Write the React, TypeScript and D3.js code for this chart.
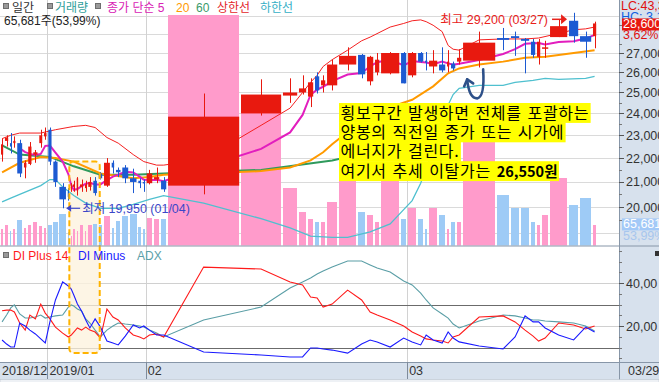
import React, { useEffect, useLayoutEffect, useRef, useState } from "react";
import * as d3 from "d3";

// ---------- data ----------
const opens = [22150,22750,22650,22650,22650,21600,21750,22150,22650,22950,
  23250,21850,20800,20600,20750,20800,20650,20800,20750,20800,21050,21350,20850,21800,21500,21600,21150,21050,21000,
  20950,21100,21050,20850,24000,24850,25000,24800,25800,25350,25350,26400,26900,25550,26000,25950,27000,
  25850,27000,26600,26300,26400,26300,26450,26550,26600,27800,27900,27750,27600,26800,27250,27850,28750,27900,27900];
const highs = [22850,23000,23100,22950,22800,21900,22700,22350,23250,23350,
  23350,21900,20950,20750,20950,21050,21200,21100,21050,21200,21200,21400,22000,21900,21600,21700,21550,21150,21100,
  21500,21600,21200,24950,25650,25700,25850,25700,26000,25850,26650,27300,26950,26850,27000,27050,27050,
  27050,27050,27050,27150,27300,27150,26550,27200,28150,28350,28150,27800,27750,27750,27650,28800,29200,28150,28700];
const lows = [21850,22500,22200,22450,21200,21150,21700,21800,22450,22800,
  21700,20800,19950,20250,20600,20600,20450,20600,20600,20650,20450,21100,20800,21350,21200,20950,20550,20750,20600,
  20900,20950,20600,20500,23900,24500,24900,24300,24950,25000,25100,26100,25700,25350,25850,25900,25450,
  25750,26500,26100,25950,26000,26000,26100,26400,26250,27150,26850,25950,26750,26400,26750,27850,27550,26750,27250];
const closes = [22600,22900,22500,22750,21350,21800,22500,22250,23000,23100,
  21850,21000,20300,20400,20800,20900,21150,20900,20900,21000,20550,21150,21800,21600,21400,21150,21000,20950,20950,
  21350,21200,20700,23850,24900,25000,25200,25500,25100,25600,26400,26850,25900,26800,26650,27000,25450,
  27000,26550,26500,26600,26100,26550,26200,26750,27550,27700,27800,27650,26900,27600,27300,28450,27900,27600,28600];
// thousand shares
const volumes = [52,66,43,52,88,56,66,79,62,56,
  66,79,110,39,26,52,43,66,43,66,71,69,101,56,83,101,109,58,52,
  96,92,92,956,550,210,118,92,79,79,157,249,118,105,79,262,92,
  131,92,52,131,105,52,79,79,445,183,131,131,79,66,105,249,144,170,65.681];

const monthStartIdx = [0, 10, 29, 46];
const monthLabels = ["2018/12", "2019/01", "02", "03"];

const ma20Pts = [[0,21400],[4,21800],[8,22050],[11,22000],[15,21850],[21,21350],[26,21150],[29,21200],[31,21300],[32,21350],[33,21450],[34,21600],[36,21900],[38,22250],[39,22600],[40,23150],[42,23900],[44,24300],[46,24650],[49,25300],[51,25950],[53,26200],[54,26400],[55,26550],[57,26750],[60,26800],[61,26900],[62,27000],[64,27150]];
const ma60Pts = [[0,22550],[4,22150],[10,22050],[15,21650],[21,21300],[26,21300],[31,21350],[33,21500],[39,21900],[40,22050],[44,22400],[49,22900],[54,23300],[59,23700],[62,23950]];
const bbUpperPts = [[0,22850],[2,23000],[4,23100],[8,23100],[11,23250],[15,23400],[18,23450],[20,23350],[22,22900],[24,22650],[26,22150],[28,21850],[30,21700],[31,21700],[32,21950],[33,23450],[34,24250],[35,25000],[36,25500],[37,25850],[38,26300],[39,26650],[40,27150],[41,27650],[42,27850],[44,28400],[45,28600],[46,28750],[47,28800],[48,28700],[49,28500],[50,28150],[51,27400],[52,27200],[53,27150],[54,27700],[55,27750],[57,27750],[59,27800],[61,28050],[62,28250],[63,28300],[64,28400]];
const bbLowerPts = [[0,20200],[2,20350],[4,20500],[8,20850],[10,21100],[11,21100],[12,20800],[15,20450],[18,20150],[21,19950],[24,19950],[26,20100],[29,20300],[31,20450],[32,20150],[33,19550],[34,19200],[36,18900],[39,18850],[40,18850],[42,19050],[44,19350],[45,19900],[46,20250],[47,20950],[49,22350],[50,23750],[51,24400],[52,24900],[53,25200],[54,25350],[55,25350],[56,25500],[58,25600],[60,25700],[61,25650],[63,25700],[64,25800]];

const diPlus = [27.1,27.4,27.4,26.5,21.4,18.1,25.1,23.3,30.2,26.0,23.3,19.5,16.7,14.9,15.8,17.2,19.1,18.1,19.5,18.1,
  17.2,14.4,27.9,24.2,22.8,19.1,15.8,14.9,14.0,15.8,16.3,14.9,47.4,46.5,40.5,39.1,33.5,33.0,28.8,30.2,
  36.7,32.1,26.5,25.1,22.8,20.0,17.2,15.3,14.0,13.5,13.0,12.1,14.9,15.8,24.2,24.7,21.9,18.1,15.3,13.0,14.4,21.4,20.5,18.6,20.0];
const diMinus = [13.5,11.6,10.2,10.2,21.4,20.0,18.1,16.3,14.0,12.1,21.9,32.1,40.5,38.6,37.2,34.4,30.2,27.0,22.8,19.1,
  23.3,19.5,13.0,12.1,11.2,15.3,20.5,19.1,20.0,18.1,15.8,15.8,7.9,6.5,5.6,5.6,9.8,9.8,9.3,8.8,
  7.4,11.6,13.5,12.6,10.2,14.4,12.6,11.2,15.8,13.5,12.1,17.2,14.4,12.6,10.7,9.3,14.9,24.7,21.9,21.9,19.1,15.8,13.5,19.5,17.2];
const adx = [21.9,25.1,28.4,29.8,25.6,23.7,23.7,24.2,25.1,23.7,24.2,24.7,25.1,28.8,29.8,29.3,27.9,27.0,23.3,21.4,
  18.1,14.9,18.1,20.0,21.4,20.9,20.5,20.0,19.5,18.1,16.7,14.9,22.8,28.8,37.7,40.5,42.3,44.2,45.6,47.4,
  50.2,50.2,48.4,47.0,45.1,40.9,39.1,35.3,32.1,28.4,25.6,23.7,20.9,19.1,22.3,25.1,24.7,23.7,22.8,22.8,22.3,21.9,21.4,20.0,17.7];

const priceTicks = [20000,21000,22000,23000,24000,25000,26000,27000];
const priceGrid = [19000,20000,21000,22000,23000,24000,25000,26000,27000,28000,29000];
const diTicks = [20, 40];
const diRefLines = [10, 30];

const boxLines = ["횡보구간 발생하면 전체를 포괄하는", "양봉의 직전일 종가 또는 시가에", "에너지가 걸린다.", "여기서 추세 이탈가는 "];
const boxBold = "26,550원";

// ---------- styling ----------
const W = 659, H = 382;
const PLOT_R = 619;
const TOP_B = 245.5;
const DI_T = 247, DI_B = 362;
const RED = "#e8190f", BLUE = "#1c5ad2", PINK = "#ff9bcb", SKY = "#9ecbf6";
const AXBG = "#d7e1ed";
const FONT = "'Liberation Sans', Arial, 'Noto Sans CJK KR', sans-serif";
const KFONT = "'Noto Sans CJK KR', 'Noto Sans', sans-serif";

export default function App() {
  useEffect(() => { document.body.style.margin = "0"; }, []);
  const textRefs = useRef<(SVGTextElement | null)[]>([]);
  const [tw, setTw] = useState<number[]>([252, 226, 122, 215]);
  useLayoutEffect(() => {
    const w = textRefs.current.map((el) => (el ? el.getComputedTextLength() : 0));
    setTw(w);
  }, []);

  const startCum = volumes.map((_, i) => d3.sum(volumes.slice(0, i)));
  const total = d3.sum(volumes);
  const x = d3.scaleLinear().domain([0, total]).range([1, 598]);
  const GAP = 1.8;
  const xs = startCum.map((c) => x(c));
  const ws = volumes.map((v, i) => Math.max(1, x(startCum[i] + v) - xs[i] - GAP));
  const cx = xs.map((s, i) => s + ws[i] / 2);

  const yP = d3.scaleLog().domain([20000, 27000]).range([207, 53]);
  const hV = d3.scaleLinear().domain([0, 1000]).range([3, 263]);
  const yD = d3.scaleLinear().domain([20, 40]).range([326, 283]);

  const ptLine = d3.line<number[]>().x((d) => cx[d[0]]).y((d) => yP(d[1]));
  const ma5 = closes.map((c, i) => (i < 4 ? null : (d3.mean(closes.slice(i - 4, i + 1)) as number)));
  const ma5Line = d3.line<number | null>().defined((d) => d != null).x((d, i) => cx[i]).y((d) => yP(d as number));
  const diLine = d3.line<number>().x((d, i) => cx[i]).y((d) => yD(d));

  const monthX = monthStartIdx.map((idx) => (idx === 0 ? 0 : xs[idx] - GAP / 2));
  const fmt = d3.format(",");
  const last = volumes.length - 1;

  const minorPrice = d3.range(19500, 29001, 500).filter((v) => v % 1000 !== 0);
  const minorDi = d3.range(5, 56, 5).filter((v) => v % 20 !== 0);

  // annotation anchors derived from the scales
  const hiIdx = closes.length - 3; // 03/27
  const loIdx = 12; // 01/04
  const hiTip = xs[hiIdx] - 2, hiY = yP(29200) + 6.5;
  const loTip = cx[loIdx] + 3.5, loY = yP(19950);
  const ax = cx[54], by = yP(26150);
  const boxL = cx[13] + 1, boxR = xs[21] + 1, boxT = yP(21850), boxB = yD(7.5);
  const bx = 339, bTop = 103, lh = 19.4;
  const volTopLast = TOP_B - hV(volumes[last]);

  return (
    <svg width={W} height={H} style={{ position: "absolute", left: 0, top: 0, display: "block", background: "#fff" }} fontFamily={FONT}>
      <defs>
        <clipPath id="cTop"><rect x={0} y={0} width={PLOT_R} height={TOP_B} /></clipPath>
        <clipPath id="cVol"><rect x={0} y={15} width={PLOT_R} height={TOP_B - 15} /></clipPath>
        <clipPath id="cDi"><rect x={0} y={DI_T} width={PLOT_R} height={DI_B - DI_T} /></clipPath>
        <clipPath id="cAll"><rect x={0} y={0} width={W} height={H} /></clipPath>
      </defs>

      {/* grid */}
      {priceGrid.map((p) => (
        <line key={p} x1={0} x2={PLOT_R} y1={Math.round(yP(p)) + 0.5} y2={Math.round(yP(p)) + 0.5} stroke="#dadada" />
      ))}
      {monthX.slice(1).map((mx, i) => (
        <line key={i} x1={Math.round(mx) + 0.5} x2={Math.round(mx) + 0.5} y1={0} y2={DI_B} stroke="#d2d2d2" />
      ))}
      {diTicks.map((t) => (
        <line key={t} x1={0} x2={PLOT_R} y1={Math.round(yD(t)) + 0.5} y2={Math.round(yD(t)) + 0.5} stroke="#d0d0d0" />
      ))}
      {diRefLines.map((t) => (
        <line key={t} x1={0} x2={PLOT_R} y1={Math.round(yD(t)) + 0.5} y2={Math.round(yD(t)) + 0.5} stroke="#6b6b6b" />
      ))}

      {/* highlighted range fill */}
      <rect x={boxL} y={boxT} width={boxR - boxL} height={boxB - boxT} rx={4} fill="#fdf3df" opacity={0.8} />

      {/* volume */}
      <g clipPath="url(#cVol)" shapeRendering="crispEdges">
        {volumes.map((v, i) => (
          <rect key={i} x={xs[i]} width={ws[i]} y={TOP_B - hV(v)} height={hV(v)} fill={closes[i] >= opens[i] ? PINK : SKY} />
        ))}
      </g>

      {/* indicator lines */}
      <g clipPath="url(#cTop)" fill="none">
        <path d={ptLine(bbLowerPts) || ""} stroke="#4fc0cf" strokeWidth={1.3} />
        <path d={ptLine(bbUpperPts) || ""} stroke="#f42020" strokeWidth={1} />
        <path d={ptLine(ma60Pts) || ""} stroke="#2f9a5c" strokeWidth={2} />
        <path d={ptLine(ma20Pts) || ""} stroke="#ff9a00" strokeWidth={2} />
        <path d={ma5Line(ma5) || ""} stroke="#e21ebe" strokeWidth={2} />
      </g>

      {/* candles */}
      <g clipPath="url(#cTop)">
        {opens.map((o, i) => {
          const up = closes[i] >= o;
          const col = up ? RED : BLUE;
          const yT = yP(Math.max(o, closes[i]));
          const yB = yP(Math.min(o, closes[i]));
          const wx = Math.round(cx[i]) + 0.5;
          return (
            <g key={i}>
              <line x1={wx} x2={wx} y1={yP(highs[i])} y2={yP(lows[i])} stroke={col} strokeWidth={1} />
              <rect x={xs[i]} width={ws[i]} y={yT} height={Math.max(1.5, yB - yT)} fill={col} />
            </g>
          );
        })}
      </g>

      {/* DI panel */}
      <g clipPath="url(#cDi)" fill="none" strokeWidth={1.1}>
        <path d={diLine(adx) || ""} stroke="#5a9ea6" />
        <path d={diLine(diPlus) || ""} stroke="#ff1a1a" />
        <path d={diLine(diMinus) || ""} stroke="#1a1aff" />
      </g>

      {/* dashed highlight outline */}
      <rect x={boxL} y={boxT} width={boxR - boxL} height={boxB - boxT} rx={4} fill="none" stroke="#ffb300" strokeWidth={2} strokeDasharray="6 3" />

      {/* text box */}
      {boxLines.map((ln, i) => (
        <rect key={"r" + i} x={bx} y={bTop + i * lh} width={tw[i] + 3} height={lh + 0.5} fill="#ffff00" />
      ))}
      {boxLines.map((ln, i) => (
        <text key={"t" + i} ref={(el) => { textRefs.current[i] = el; }} x={bx + 1.5} y={bTop + i * lh + 15.5} fontFamily={KFONT} fontSize={16} letterSpacing={0.7} wordSpacing={1.5} fill="#000">
          {ln}
          {i === 3 ? <tspan fontWeight={700} fontSize={14.5} letterSpacing={0}>{boxBold}</tspan> : null}
        </text>
      ))}

      {/* high / low annotations */}
      <text x={hiTip - 19} y={hiY + 4.5} textAnchor="end" fontSize={12.5} fill="#e8211a">최고 29,200 (03/27)</text>
      <line x1={hiTip - 15} x2={hiTip - 4} y1={hiY} y2={hiY} stroke="#e8211a" strokeWidth={1.5} />
      <path d={`M${hiTip},${hiY} L${hiTip - 6},${hiY - 5} L${hiTip - 6},${hiY + 5} Z`} fill="#e8211a" />

      <path d={`M${loTip},${loY} L${loTip + 5},${loY - 3.5} L${loTip + 5},${loY + 3.5} Z`} fill="#3b46c8" />
      <line x1={loTip + 4} x2={loTip + 14} y1={loY} y2={loY} stroke="#3b46c8" strokeWidth={1.2} />
      <text x={loTip + 16} y={loY + 4.5} fontSize={12.5} fill="#3b46c8">최저 19,950 (01/04)</text>

      {/* curved arrow */}
      <g fill="none" stroke="#2d5089" strokeWidth={2.6} strokeLinecap="round" strokeLinejoin="round">
        <path d={`M${ax + 4},${by} C${ax + 5},${by + 16} ${ax + 4},${by + 28} ${ax - 2},${by + 29} C${ax - 8},${by + 29} ${ax - 11},${by + 20} ${ax - 12},${by + 10}`} />
        <path d={`M${ax - 15},${by + 17} L${ax - 12},${by + 10} L${ax - 6},${by + 14}`} />
      </g>

      {/* legends */}
      {[3, 47, 95].map((sx) => (
        <rect key={sx} x={sx + 0.5} y={3.5} width={5} height={5} fill="#9a9a9a" stroke="#6e6e6e" />
      ))}
      <g fontSize={12}>
        <text x={12} y={11.5} fill="#333">일간</text>
        <text x={55} y={11.5} fill="#2e9e9a">거래량</text>
        <text x={107} y={11.5} fill="#d822b5">종가 단순 5</text>
        <text x={176} y={11.5} fill="#ff9a00">20</text>
        <text x={196} y={11.5} fill="#3a9a6a">60</text>
        <text x={217} y={11.5} fill="#e3262a">상한선</text>
        <text x={260} y={11.5} fill="#35afc6">하한선</text>
        <text x={4} y={25} fill="#222">65,681주(53,99%)</text>
      </g>
      <rect x={3.5} y={252.5} width={5} height={5} fill="#9a9a9a" stroke="#6e6e6e" />
      <g fontSize={12}>
        <text x={13} y={259.5} fill="#ff1a1a">DI Plus 14</text>
        <text x={78} y={259.5} fill="#2020ff">DI Minus</text>
        <text x={137} y={259.5} fill="#5aa0a8">ADX</text>
      </g>

      {/* right axis panel */}
      <g clipPath="url(#cAll)">
        <rect x={PLOT_R} y={0} width={W - PLOT_R} height={H} fill={AXBG} />
        <line x1={PLOT_R + 0.5} x2={PLOT_R + 0.5} y1={0} y2={H} stroke="#8796a8" />
        {priceTicks.map((p) => (
          <g key={p}>
            <line x1={PLOT_R} x2={PLOT_R + 5} y1={Math.round(yP(p)) + 0.5} y2={Math.round(yP(p)) + 0.5} stroke="#555" />
            <text x={PLOT_R + 7} y={yP(p) + 4.5} fontSize={12.5} fill="#333">{fmt(p)}</text>
          </g>
        ))}
        {minorPrice.map((p) => (
          <line key={p} x1={PLOT_R} x2={PLOT_R + 3} y1={Math.round(yP(p)) + 0.5} y2={Math.round(yP(p)) + 0.5} stroke="#777" />
        ))}
        <text x={PLOT_R + 2} y={10} fontSize={12.5} fill="#e01010">LC:43,350</text>
        <text x={PLOT_R + 2} y={21} fontSize={12.5} fill="#1060e0">HC: 3,150</text>
        <rect x={PLOT_R + 3} y={yP(28600) - 5} width={W - PLOT_R - 3} height={12} fill={RED} />
        <text x={PLOT_R + 4} y={yP(28600) + 5} fontSize={12.5} fill="#fff">28,600</text>
        <text x={PLOT_R + 4} y={yP(28600) + 16} fontSize={12.5} fill="#e01010">3,62%</text>
        <rect x={PLOT_R + 3} y={volTopLast - 7} width={W - PLOT_R - 3} height={12} fill="#a3c9f7" />
        <text x={PLOT_R + 4} y={volTopLast + 3} fontSize={12.5} fill="#fff">65,681</text>
        <text x={PLOT_R + 4} y={volTopLast + 15} fontSize={12.5} fill="#a7c6ee">53,99%</text>

        {diTicks.map((t) => (
          <g key={t}>
            <line x1={PLOT_R} x2={PLOT_R + 5} y1={Math.round(yD(t)) + 0.5} y2={Math.round(yD(t)) + 0.5} stroke="#555" />
            <text x={PLOT_R + 7} y={yD(t) + 4.5} fontSize={12.5} fill="#333">{t.toFixed(2).replace(".", ",")}</text>
          </g>
        ))}
        {minorDi.map((t) => (
          <line key={t} x1={PLOT_R} x2={PLOT_R + 3} y1={Math.round(yD(t)) + 0.5} y2={Math.round(yD(t)) + 0.5} stroke="#777" />
        ))}
        <rect x={655} y={251} width={4} height={5} fill="#333" />
      </g>

      {/* panel borders */}
      <line x1={0} x2={W} y1={TOP_B + 0.5} y2={TOP_B + 0.5} stroke="#8796a8" />
      <line x1={0} x2={W} y1={DI_B + 0.5} y2={DI_B + 0.5} stroke="#8796a8" />

      {/* bottom date strip */}
      <rect x={0} y={DI_B + 1} width={PLOT_R} height={H - DI_B - 1} fill={AXBG} />
      {monthX.slice(1).map((mx, i) => (
        <line key={i} x1={Math.round(mx) + 0.5} x2={Math.round(mx) + 0.5} y1={DI_B} y2={379} stroke="#7f8c9c" />
      ))}
      {monthLabels.map((lab, i) => (
        <text key={lab} x={monthX[i] + 2} y={375} fontSize={12.5} fill="#333">{lab}</text>
      ))}
      <text x={PLOT_R + 9} y={375} fontSize={12.5} fill="#333">03/29</text>
      <rect x={0} y={379.5} width={W} height={3} fill="#eef1f5" stroke="#b4bdc8" strokeWidth={0.5} />
    </svg>
  );
}
